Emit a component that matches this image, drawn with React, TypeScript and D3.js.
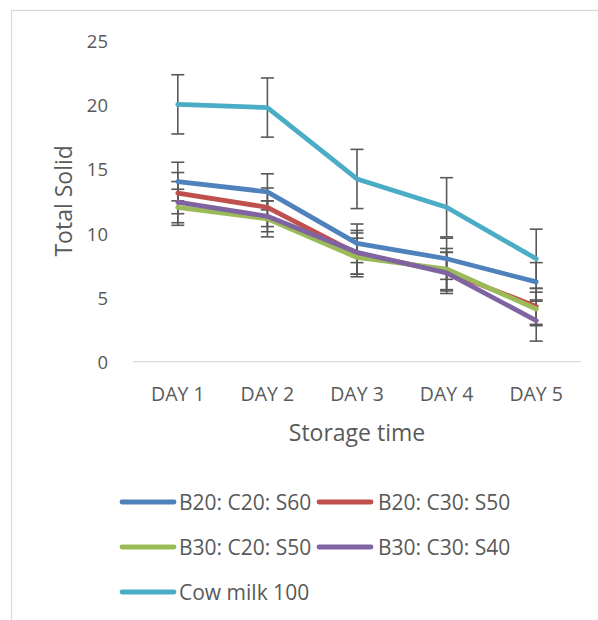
import React from "react";
import * as d3 from "d3";

const days = ["DAY 1", "DAY 2", "DAY 3", "DAY 4", "DAY 5"];
const yTicks = [0, 5, 10, 15, 20, 25];

const seriesNames = ["B20: C20: S60", "B20: C30: S50", "B30: C20: S50", "B30: C30: S40", "Cow milk 100"];
const seriesColors = ["#4F81BD", "#C0504D", "#9BBB59", "#8064A2", "#4BACC6"];

const b20c20s60 = [14.0, 13.2, 9.2, 8.0, 6.2];
const b20c30s50 = [13.1, 12.0, 8.4, 7.0, 4.3];
const b30c20s50 = [12.0, 11.1, 8.1, 7.2, 4.1];
const b30c30s40 = [12.4, 11.3, 8.5, 6.9, 3.2];
const cowMilk = [20.0, 19.75, 14.2, 12.0, 8.0];

const errB20c20s60 = [1.5, 1.4, 1.5, 1.6, 1.5];
const errB20c30s50 = [1.6, 1.5, 1.6, 1.5, 1.4];
const errB30c20s50 = [1.4, 1.4, 1.5, 1.6, 1.3];
const errB30c30s40 = [1.6, 1.2, 1.7, 1.6, 1.6];
const errCowMilk = [2.3, 2.3, 2.3, 2.3, 2.3];

const seriesValues = [b20c20s60, b20c30s50, b30c20s50, b30c30s40, cowMilk];
const seriesErrors = [errB20c20s60, errB20c30s50, errB30c20s50, errB30c30s40, errCowMilk];

const FONT = "'Open Sans', 'Noto Sans', sans-serif";
const TXT = "#595959";

export default function App() {
  const x = d3.scaleBand<string>().domain(days).range([133, 581]).padding(0);
  const y = d3.scaleLinear().domain([0, 25]).range([361.7, 40]);
  const cx = (d: string) => (x(d) as number) + x.bandwidth() / 2;
  const line = d3
    .line<number>()
    .x((_, i) => cx(days[i]))
    .y((v) => y(v));

  const legendPos = [
    { lx: 120, tx: 179, ly: 502 },
    { lx: 317, tx: 378, ly: 502 },
    { lx: 120, tx: 179, ly: 547 },
    { lx: 317, tx: 378, ly: 547 },
    { lx: 120, tx: 179, ly: 592 },
  ];

  return (
    <svg
      width={598}
      height={620}
      style={{ position: "absolute", left: 0, top: 0, background: "#fff" }}
      fontFamily={FONT}
    >
      <rect x={0} y={0} width={598} height={620} fill="#fff" />
      <rect x={11.5} y={10.5} width={640} height={660} fill="#fff" stroke="#D9D9D9" strokeWidth={1.2} />

      {/* y tick labels */}
      {yTicks.map((t) => (
        <text key={t} x={108} y={y(t)} textAnchor="end" dominantBaseline="central" fontSize={18.5} fill={TXT}>
          {t}
        </text>
      ))}

      {/* x axis line */}
      <line x1={133} x2={581} y1={y(0)} y2={y(0)} stroke="#D9D9D9" strokeWidth={1.3} />

      {/* x tick labels */}
      {days.map((d) => (
        <text key={d} x={cx(d)} y={393} textAnchor="middle" dominantBaseline="central" fontSize={19.5} fill={TXT}>
          {d}
        </text>
      ))}

      {/* axis titles */}
      <text x={357} y={432} textAnchor="middle" dominantBaseline="central" fontSize={23} fill={TXT}>
        Storage time
      </text>
      <text
        transform={`translate(63, ${y(12.5)}) rotate(-90)`}
        textAnchor="middle"
        dominantBaseline="central"
        fontSize={23}
        fill={TXT}
      >
        Total Solid
      </text>

      {/* error bars */}
      {seriesValues.map((vals, si) =>
        vals.map((v, i) => {
          const e = seriesErrors[si][i];
          const px = cx(days[i]);
          return (
            <g key={`e${si}-${i}`} stroke="#595959" strokeWidth={1.6}>
              <line x1={px} x2={px} y1={y(v + e)} y2={y(v - e)} />
              <line x1={px - 6.5} x2={px + 6.5} y1={y(v + e)} y2={y(v + e)} />
              <line x1={px - 6.5} x2={px + 6.5} y1={y(v - e)} y2={y(v - e)} />
            </g>
          );
        })
      )}

      {/* lines */}
      {seriesValues.map((vals, si) => (
        <path
          key={`l${si}`}
          d={line(vals) || ""}
          fill="none"
          stroke={seriesColors[si]}
          strokeWidth={4.8}
          strokeLinejoin="round"
          strokeLinecap="round"
        />
      ))}

      {/* legend */}
      {seriesNames.map((name, si) => {
        const p = legendPos[si];
        return (
          <g key={`lg${si}`}>
            <line
              x1={p.lx + 2}
              x2={p.lx + 54}
              y1={p.ly}
              y2={p.ly}
              stroke={seriesColors[si]}
              strokeWidth={4.8}
              strokeLinecap="round"
            />
            <text x={p.tx} y={p.ly} dominantBaseline="central" fontSize={21} fill={TXT}>
              {name}
            </text>
          </g>
        );
      })}
    </svg>
  );
}
